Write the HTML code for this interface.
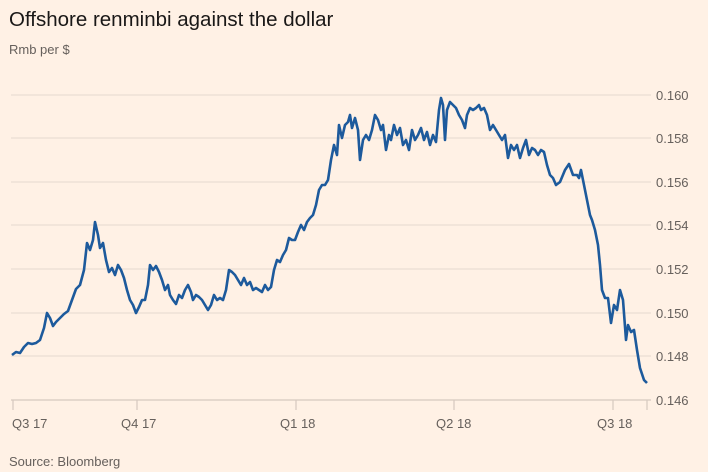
<!DOCTYPE html>
<html><head><style>
body{margin:0;background:#fff1e5;}
svg{display:block;font-family:"Liberation Sans",sans-serif;}
</style></head><body>
<svg width="708" height="472" viewBox="0 0 708 472">
<rect width="708" height="472" fill="#fff1e5"/>
<text x="9" y="26" font-size="20.5" fill="#1a1817">Offshore renminbi against the dollar</text>
<text x="9" y="54" font-size="13" fill="#66605c">Rmb per $</text>
<g stroke="#e6d9ce" stroke-width="1">
<line x1="11" x2="651" y1="95" y2="95"/>
<line x1="11" x2="651" y1="138" y2="138"/>
<line x1="11" x2="651" y1="182" y2="182"/>
<line x1="11" x2="651" y1="225" y2="225"/>
<line x1="11" x2="651" y1="269" y2="269"/>
<line x1="11" x2="651" y1="313" y2="313"/>
<line x1="11" x2="651" y1="356" y2="356"/>
</g>
<g stroke="#d5c9bf" stroke-width="1.2">
<line x1="11" x2="651" y1="400" y2="400"/>
<line x1="13" x2="13" y1="400" y2="410"/>
<line x1="137" x2="137" y1="400" y2="410"/>
<line x1="296" x2="296" y1="400" y2="410"/>
<line x1="454" x2="454" y1="400" y2="410"/>
<line x1="613" x2="613" y1="400" y2="410"/>
<line x1="647" x2="647" y1="400" y2="410"/>
</g>
<g font-size="13" fill="#66605c">
<text x="12" y="428">Q3 17</text>
<text x="121" y="428">Q4 17</text>
<text x="280" y="428">Q1 18</text>
<text x="436" y="428">Q2 18</text>
<text x="597" y="428">Q3 18</text>
<text x="656" y="100">0.160</text>
<text x="656" y="143">0.158</text>
<text x="656" y="187">0.156</text>
<text x="656" y="230">0.154</text>
<text x="656" y="274">0.152</text>
<text x="656" y="318">0.150</text>
<text x="656" y="361">0.148</text>
<text x="656" y="405">0.146</text>
<text x="9" y="466">Source: Bloomberg</text>
</g>
<polyline fill="none" stroke="#1d5a9c" stroke-width="2.6" stroke-linejoin="round" points="12,355 16,352 20,353 24,347 28,343 32,344 36,343 40,340 44,328 47,313 50,318 53,326 56,322 60,318 64,314 68,311 72,300 76,289 80,285 84,270 87,243 90,250 93,240 95,222 98,235 100,248 103,243 106,260 109,272 112,268 115,275 118,265 121,270 124,278 127,290 130,300 133,305 136,313 139,307 142,300 145,300 148,285 150,265 153,270 156,266 159,272 162,280 165,290 168,285 170,295 173,300 176,304 179,295 182,298 185,290 188,285 191,292 193,300 196,295 199,297 202,300 205,305 208,310 211,305 214,295 217,300 220,298 223,300 226,290 229,270 232,272 235,275 238,280 241,285 244,278 247,285 250,282 253,290 256,288 259,290 262,292 265,285 268,290 271,287 274,270 277,260 280,262 283,255 286,250 289,238 292,240 295,240 298,232 301,225 304,230 307,222 310,218 313,215 316,205 319,190 322,185 325,185 328,180 331,160 334,145 337,155 339,125 342,138 345,125 348,122 350,115 352,128 355,118 358,130 360,160 363,140 366,135 369,140 372,130 375,115 378,120 381,130 383,125 386,150 389,135 391,140 394,125 397,135 400,128 403,145 406,140 409,150 412,130 415,140 418,135 421,128 424,140 427,132 430,145 433,135 436,142 439,110 441,98 443,105 445,140 447,110 450,102 453,105 456,108 459,115 462,120 465,128 467,115 470,108 473,110 476,108 479,105 481,110 484,108 487,115 490,130 493,125 496,130 499,135 502,140 505,135 508,158 511,145 514,150 517,145 520,158 523,148 526,140 529,155 532,148 535,150 538,155 541,150 544,152 547,165 550,175 553,178 556,185 560,182 565,170 569,164 573,175 577,175 579,178 581,170 584,185 587,200 590,215 592,220 595,230 598,245 600,265 602,290 605,298 608,298 611,323 614,305 617,310 620,290 623,300 626,340 628,325 631,332 634,330 637,350 640,368 644,380 647,383"/>
</svg>
</body></html>
